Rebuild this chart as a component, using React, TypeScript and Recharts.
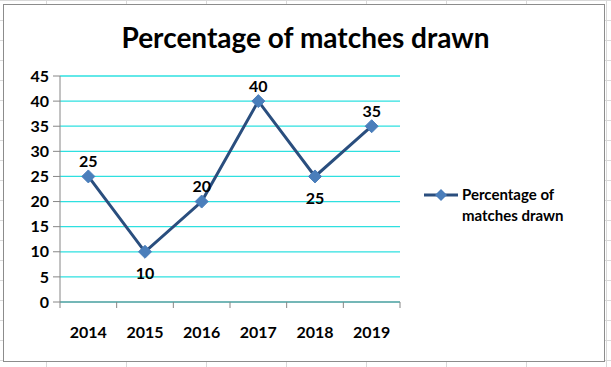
import { CartesianGrid, LabelList, Line, LineChart, XAxis, YAxis } from 'recharts'

const years = ['2014', '2015', '2016', '2017', '2018', '2019']
const drawnPct = [25, 10, 20, 40, 25, 35]
const yTicks = [0, 5, 10, 15, 20, 25, 30, 35, 40, 45]
const labelSide = ['top', 'bottom', 'top', 'top', 'bottom', 'top']

const data = years.map((year, i) => ({ year, value: drawnPct[i] }))

const FONT = 'Lato, "Open Sans", sans-serif'
const LINE = '#2A4E7E'
const MARKER = '#4A7EBB'
const AXIS = '#868686'
const PLOT_W = 340

const Diamond = (props: any) => {
  const { cx, cy } = props
  if (cx == null || cy == null) return null
  const r = 6.5
  return (
    <polygon
      points={`${cx},${cy - r} ${cx + r},${cy} ${cx},${cy + r} ${cx - r},${cy}`}
      fill={MARKER}
      stroke={MARKER}
    />
  )
}

const PointLabel = (props: any) => {
  const { x, y, value, index } = props
  const below = labelSide[index] === 'bottom'
  return (
    <text
      x={x}
      y={below ? y + 21 : y - 16}
      textAnchor="middle"
      dominantBaseline="central"
      fontFamily={FONT}
      fontWeight={700}
      fontSize={16}
      fill="#000"
    >
      {value}
    </text>
  )
}

// Excel-style: tick marks between categories, label centred on the category
const YearTick = (props: any) => {
  const { x, y, payload, index } = props
  const half = PLOT_W / years.length / 2
  const last = index === years.length - 1
  return (
    <g>
      <line x1={x - half} y1={y} x2={x - half} y2={y + 6} stroke={AXIS} />
      {last && <line x1={x + half} y1={y} x2={x + half} y2={y + 6} stroke={AXIS} />}
      <text
        x={x}
        y={y + 29}
        textAnchor="middle"
        dominantBaseline="central"
        fontFamily={FONT}
        fontWeight={700}
        fontSize={16}
        fill="#000"
      >
        {payload.value}
      </text>
    </g>
  )
}

const LegendBox = () => (
  <div
    style={{
      position: 'absolute',
      left: 424,
      top: 184,
      fontFamily: FONT,
      fontWeight: 700,
      fontSize: 15,
      lineHeight: '21px',
    }}
  >
    <svg width={34} height={14} style={{ position: 'absolute', left: 0, top: 4 }}>
      <line x1={0} y1={7} x2={34} y2={7} stroke={LINE} strokeWidth={3} />
      <polygon points="17,1 23,7 17,13 11,7" fill={MARKER} />
    </svg>
    <div style={{ marginLeft: 38, color: '#000' }}>
      Percentage of
      <br />
      matches drawn
    </div>
  </div>
)

export default function App() {
  return (
    <div
      style={{
        position: 'absolute',
        left: 0,
        top: 0,
        width: 611,
        height: 367,
        background: '#fff',
        backgroundImage:
          'linear-gradient(to right, #d9d9d9 1px, transparent 1px), linear-gradient(to bottom, #d9d9d9 1px, transparent 1px)',
        backgroundSize: '80px 100%, 100% 20px',
        backgroundPosition: '46px 0, 0 0',
      }}
    >
      <div
        style={{
          position: 'absolute',
          left: 3,
          top: 4,
          width: 600,
          height: 356,
          background: '#fff',
          border: '1px solid #8c8c8c',
        }}
      />
      <div
        style={{
          position: 'absolute',
          left: 0,
          top: 20,
          width: 611,
          textAlign: 'center',
          fontFamily: FONT,
          fontWeight: 700,
          fontSize: 28,
          color: '#000',
        }}
      >
        Percentage of matches drawn
      </div>
      <div style={{ position: 'absolute', left: 0, top: 0 }}>
        <LineChart width={611} height={367} data={data} margin={{ top: 76, right: 211, left: 0, bottom: 0 }}>
          <CartesianGrid vertical={false} stroke="#2EE0E0" strokeWidth={1.3} />
          <XAxis
            dataKey="year"
            scale="band"
            interval={0}
            height={65}
            tickLine={false}
            tickSize={0}
            tickMargin={0}
            stroke={AXIS}
            tick={<YearTick />}
          />
          <YAxis
            domain={[0, 45]}
            ticks={yTicks}
            interval={0}
            width={60}
            tickSize={7}
            tickMargin={4}
            stroke={AXIS}
            tick={{ fontFamily: FONT, fontWeight: 700, fontSize: 16, fill: '#000' }}
          />
          <Line
            dataKey="value"
            name="Percentage of matches drawn"
            stroke={LINE}
            strokeWidth={3}
            dot={<Diamond />}
            activeDot={false}
            isAnimationActive={false}
          >
            <LabelList dataKey="value" content={<PointLabel />} />
          </Line>
        </LineChart>
      </div>
      <LegendBox />
    </div>
  )
}
